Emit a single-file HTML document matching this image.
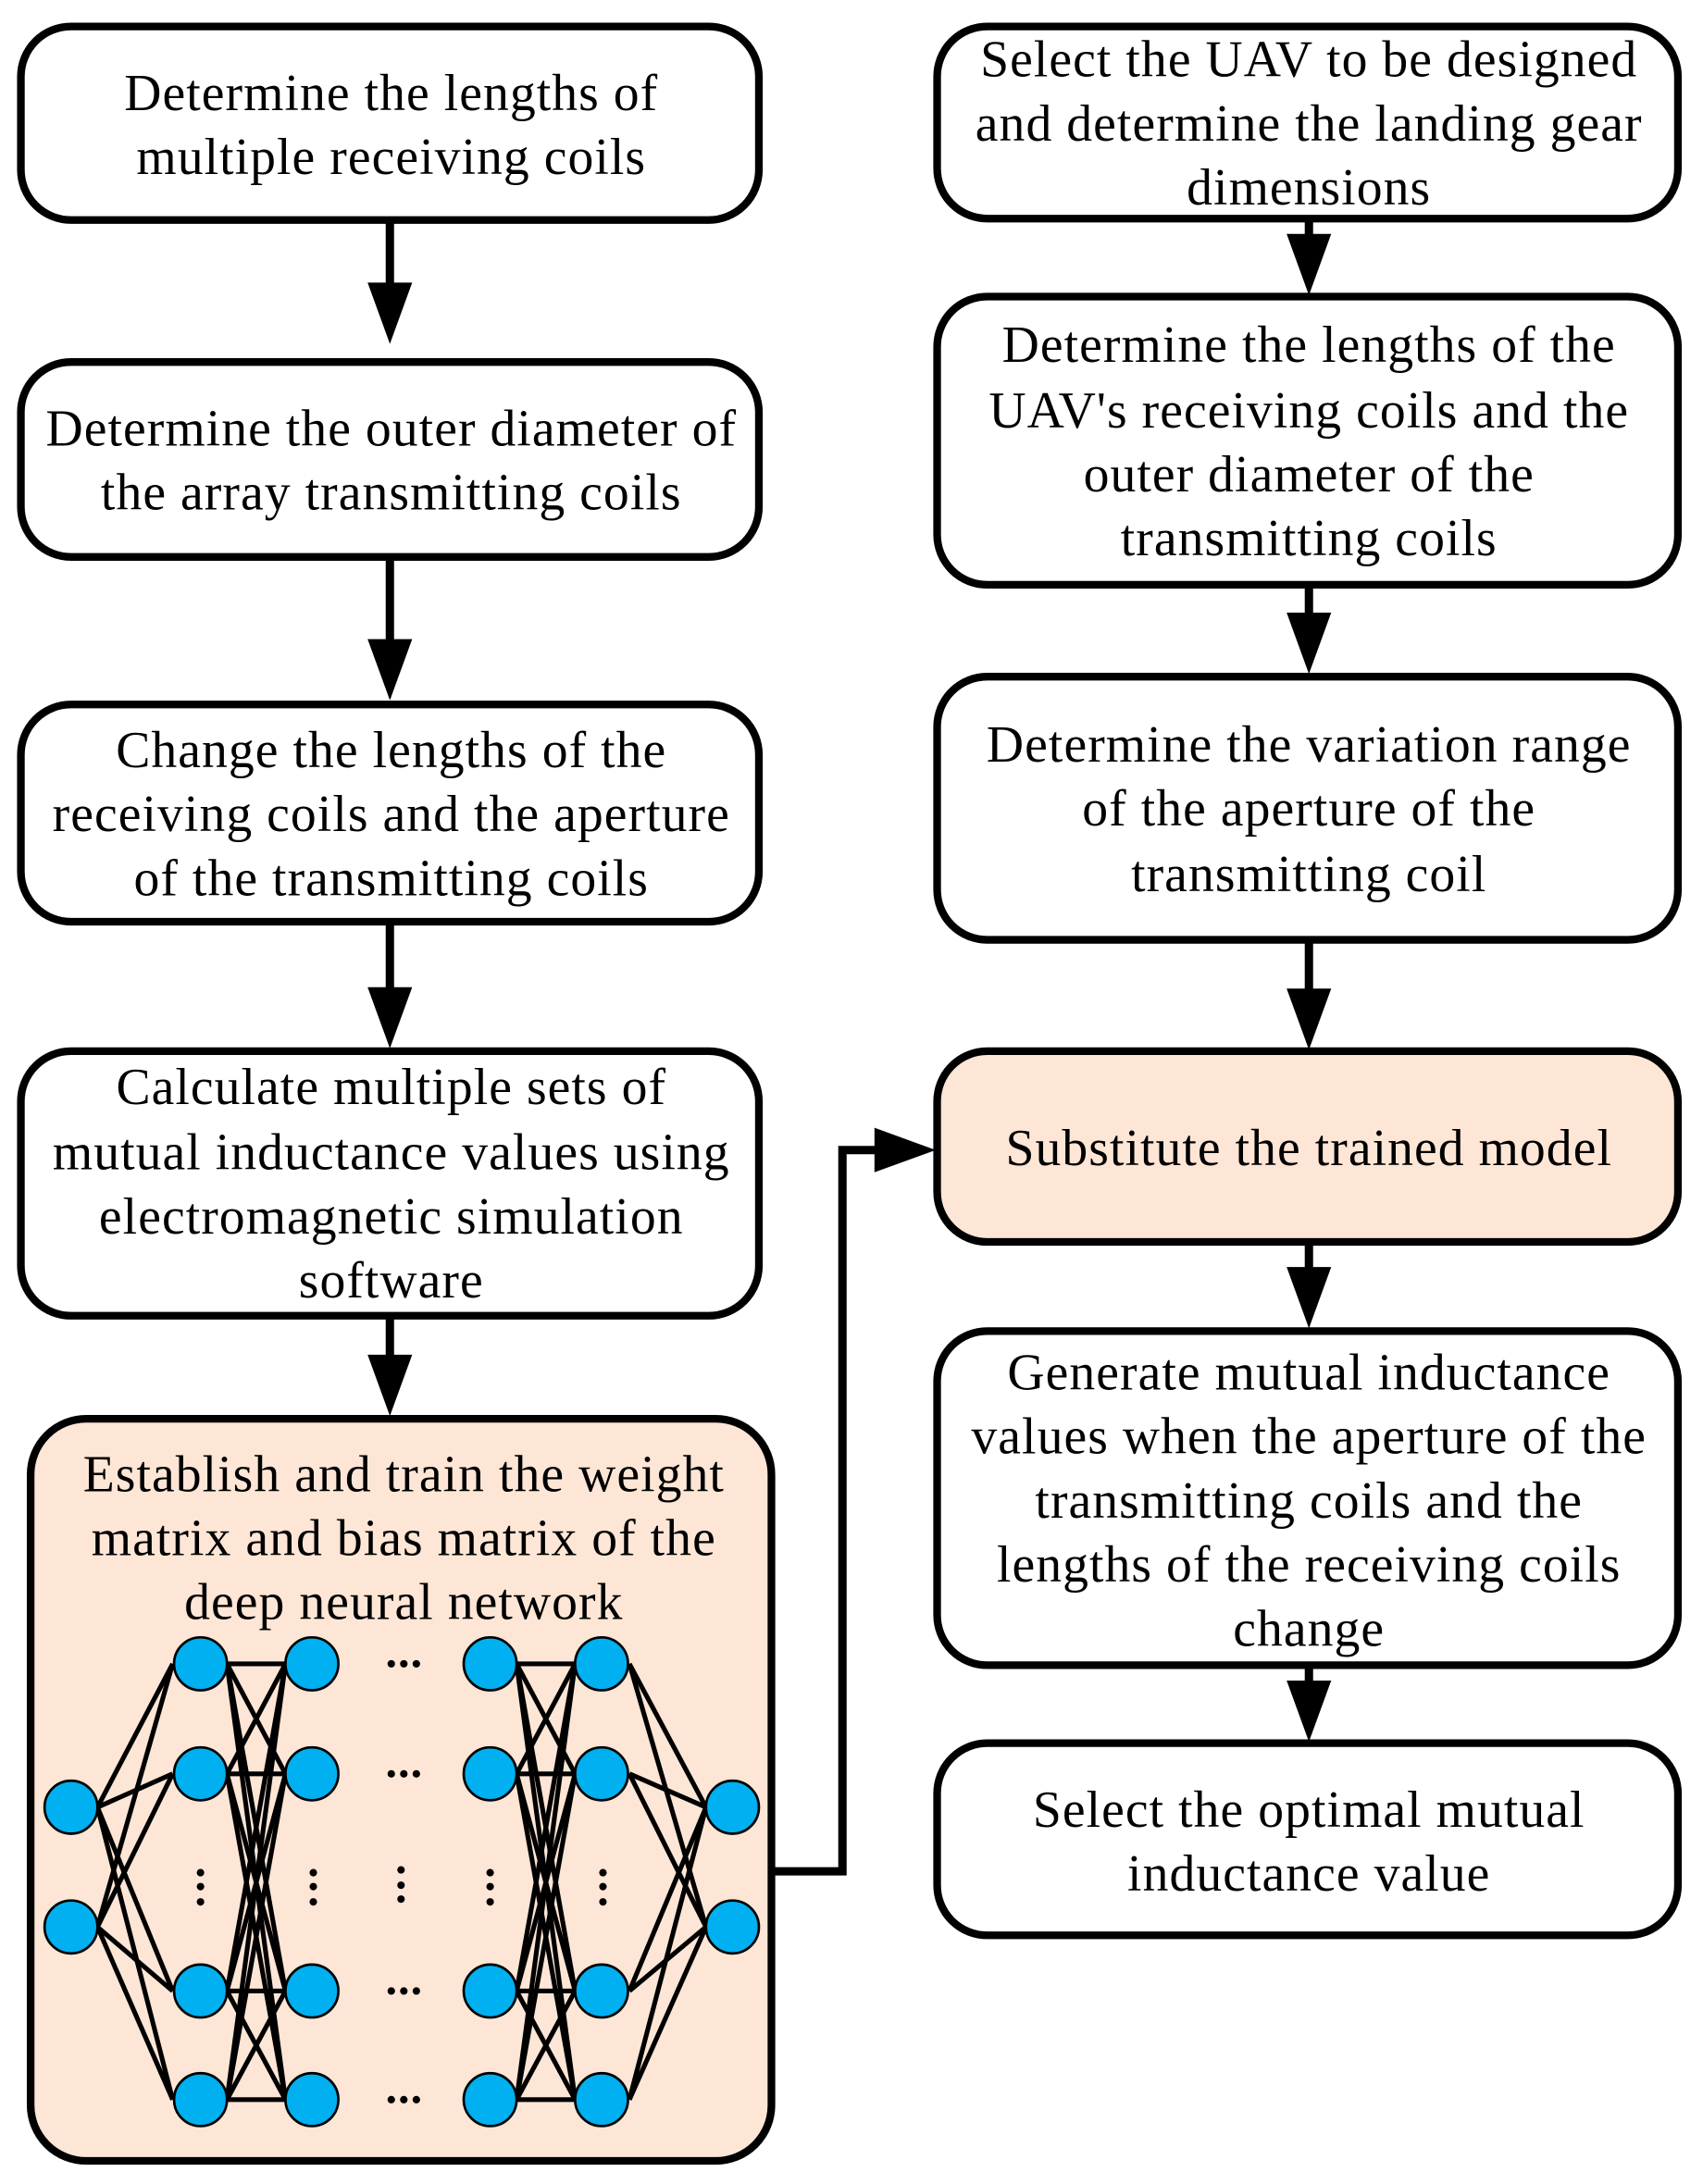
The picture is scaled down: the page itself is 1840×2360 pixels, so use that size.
<!DOCTYPE html>
<html><head><meta charset="utf-8"><style>html,body{margin:0;padding:0;background:#fff}svg{display:block}</style></head>
<body>
<svg xmlns="http://www.w3.org/2000/svg" width="1840" height="2360" viewBox="0 0 1223 1568.6" preserveAspectRatio="none">
<defs>
<g id="ah"><polygon points="-16,0 16,0 0,44" fill="#000"/></g>
</defs>
<g fill="#fff" stroke="#000" stroke-width="5.5">
<rect x="15" y="19" width="530" height="139" rx="36"/>
<rect x="15" y="260" width="530" height="140" rx="36"/>
<rect x="15" y="506" width="530" height="156" rx="36"/>
<rect x="15" y="755" width="530" height="190" rx="36"/>
<rect x="22" y="1019" width="532" height="533" rx="40" fill="#fee6d6"/>
<rect x="673" y="19" width="532" height="138" rx="36"/>
<rect x="673" y="213" width="532" height="207" rx="36"/>
<rect x="673" y="486" width="532" height="189" rx="36"/>
<rect x="673" y="755" width="532" height="137" rx="36" fill="#fee6d6"/>
<rect x="673" y="956" width="532" height="240" rx="36"/>
<rect x="673" y="1252" width="532" height="138" rx="36"/>
</g>
<g stroke="#000" stroke-width="6" fill="none">
<line x1="280" y1="158" x2="280" y2="205"/>
<line x1="280" y1="400" x2="280" y2="460"/>
<line x1="280" y1="662" x2="280" y2="710"/>
<line x1="280" y1="945" x2="280" y2="975"/>
<line x1="940" y1="157" x2="940" y2="170"/>
<line x1="940" y1="420" x2="940" y2="442"/>
<line x1="940" y1="675" x2="940" y2="712"/>
<line x1="940" y1="892" x2="940" y2="912"/>
<line x1="940" y1="1196" x2="940" y2="1210"/>
<polyline points="554,1344 605,1344 605,826 635,826"/>
</g>
<use href="#ah" x="280" y="203"/>
<use href="#ah" x="280" y="459"/>
<use href="#ah" x="280" y="709"/>
<use href="#ah" x="280" y="973"/>
<use href="#ah" x="940" y="168"/>
<use href="#ah" x="940" y="440"/>
<use href="#ah" x="940" y="710"/>
<use href="#ah" x="940" y="910"/>
<use href="#ah" x="940" y="1207"/>
<polygon points="628,810 628,842 672,826" fill="#000"/>
<g stroke="#000" stroke-width="3.4">
<g>
<line x1="70" y1="1298" x2="124" y2="1195"/><line x1="70" y1="1298" x2="124" y2="1274"/><line x1="70" y1="1298" x2="124" y2="1430"/><line x1="70" y1="1298" x2="124" y2="1508"/>
<line x1="70" y1="1384" x2="124" y2="1195"/><line x1="70" y1="1384" x2="124" y2="1274"/><line x1="70" y1="1384" x2="124" y2="1430"/><line x1="70" y1="1384" x2="124" y2="1508"/>
</g>
<g>
<line x1="163" y1="1195" x2="205" y2="1195"/><line x1="163" y1="1195" x2="205" y2="1274"/><line x1="163" y1="1195" x2="205" y2="1430"/><line x1="163" y1="1195" x2="205" y2="1508"/>
<line x1="163" y1="1274" x2="205" y2="1195"/><line x1="163" y1="1274" x2="205" y2="1274"/><line x1="163" y1="1274" x2="205" y2="1430"/><line x1="163" y1="1274" x2="205" y2="1508"/>
<line x1="163" y1="1430" x2="205" y2="1195"/><line x1="163" y1="1430" x2="205" y2="1274"/><line x1="163" y1="1430" x2="205" y2="1430"/><line x1="163" y1="1430" x2="205" y2="1508"/>
<line x1="163" y1="1508" x2="205" y2="1195"/><line x1="163" y1="1508" x2="205" y2="1274"/><line x1="163" y1="1508" x2="205" y2="1430"/><line x1="163" y1="1508" x2="205" y2="1508"/>
</g>
<g>
<line x1="371" y1="1195" x2="413" y2="1195"/><line x1="371" y1="1195" x2="413" y2="1274"/><line x1="371" y1="1195" x2="413" y2="1430"/><line x1="371" y1="1195" x2="413" y2="1508"/>
<line x1="371" y1="1274" x2="413" y2="1195"/><line x1="371" y1="1274" x2="413" y2="1274"/><line x1="371" y1="1274" x2="413" y2="1430"/><line x1="371" y1="1274" x2="413" y2="1508"/>
<line x1="371" y1="1430" x2="413" y2="1195"/><line x1="371" y1="1430" x2="413" y2="1274"/><line x1="371" y1="1430" x2="413" y2="1430"/><line x1="371" y1="1430" x2="413" y2="1508"/>
<line x1="371" y1="1508" x2="413" y2="1195"/><line x1="371" y1="1508" x2="413" y2="1274"/><line x1="371" y1="1508" x2="413" y2="1430"/><line x1="371" y1="1508" x2="413" y2="1508"/>
</g>
<g>
<line x1="452" y1="1195" x2="507" y2="1298"/><line x1="452" y1="1274" x2="507" y2="1298"/><line x1="452" y1="1430" x2="507" y2="1298"/><line x1="452" y1="1508" x2="507" y2="1298"/>
<line x1="452" y1="1195" x2="507" y2="1384"/><line x1="452" y1="1274" x2="507" y2="1384"/><line x1="452" y1="1430" x2="507" y2="1384"/><line x1="452" y1="1508" x2="507" y2="1384"/>
</g>
</g>
<g fill="#00b0f0" stroke="#000" stroke-width="1.8">
<circle cx="51" cy="1298" r="19"/><circle cx="51" cy="1384" r="19"/>
<circle cx="144" cy="1195" r="19"/><circle cx="144" cy="1274" r="19"/><circle cx="144" cy="1430" r="19"/><circle cx="144" cy="1508" r="19"/>
<circle cx="224" cy="1195" r="19"/><circle cx="224" cy="1274" r="19"/><circle cx="224" cy="1430" r="19"/><circle cx="224" cy="1508" r="19"/>
<circle cx="352" cy="1195" r="19"/><circle cx="352" cy="1274" r="19"/><circle cx="352" cy="1430" r="19"/><circle cx="352" cy="1508" r="19"/>
<circle cx="432" cy="1195" r="19"/><circle cx="432" cy="1274" r="19"/><circle cx="432" cy="1430" r="19"/><circle cx="432" cy="1508" r="19"/>
<circle cx="526" cy="1298" r="19"/><circle cx="526" cy="1384" r="19"/>
</g>
<g fill="#000">
<g><circle cx="281" cy="1195" r="2.7"/><circle cx="290" cy="1195" r="2.7"/><circle cx="299" cy="1195" r="2.7"/></g>
<g><circle cx="281" cy="1274" r="2.7"/><circle cx="290" cy="1274" r="2.7"/><circle cx="299" cy="1274" r="2.7"/></g>
<g><circle cx="281" cy="1430" r="2.7"/><circle cx="290" cy="1430" r="2.7"/><circle cx="299" cy="1430" r="2.7"/></g>
<g><circle cx="281" cy="1508" r="2.7"/><circle cx="290" cy="1508" r="2.7"/><circle cx="299" cy="1508" r="2.7"/></g>
<g><circle cx="144" cy="1345" r="2.7"/><circle cx="144" cy="1355" r="2.7"/><circle cx="144" cy="1366" r="2.7"/></g>
<g><circle cx="225" cy="1345" r="2.7"/><circle cx="225" cy="1355" r="2.7"/><circle cx="225" cy="1366" r="2.7"/></g>
<g><circle cx="288" cy="1343" r="2.7"/><circle cx="288" cy="1354" r="2.7"/><circle cx="288" cy="1364" r="2.7"/></g>
<g><circle cx="352" cy="1345" r="2.7"/><circle cx="352" cy="1355" r="2.7"/><circle cx="352" cy="1366" r="2.7"/></g>
<g><circle cx="433" cy="1345" r="2.7"/><circle cx="433" cy="1355" r="2.7"/><circle cx="433" cy="1366" r="2.7"/></g>
</g>
<g font-family="'Liberation Serif', serif" font-size="37" letter-spacing="0.7" text-anchor="middle" dominant-baseline="central" fill="#000">
<text x="281" y="67">Determine the lengths of</text>
<text x="281" y="113">multiple receiving coils</text>
<text x="281" y="308">Determine the outer diameter of</text>
<text x="281" y="354">the array transmitting coils</text>
<text x="281" y="539">Change the lengths of the</text>
<text x="281" y="585">receiving coils and the aperture</text>
<text x="281" y="631">of the transmitting coils</text>
<text x="281" y="781">Calculate multiple sets of</text>
<text x="281" y="828">mutual inductance values using</text>
<text x="281" y="874">electromagnetic simulation</text>
<text x="281" y="920">software</text>
<text x="290" y="1059">Establish and train the weight</text>
<text x="290" y="1105">matrix and bias matrix of the</text>
<text x="290" y="1151">deep neural network</text>
<text x="940" y="43">Select the UAV to be designed</text>
<text x="940" y="89">and determine the landing gear</text>
<text x="940" y="135">dimensions</text>
<text x="940" y="248">Determine the lengths of the</text>
<text x="940" y="295">UAV's receiving coils and the</text>
<text x="940" y="341">outer diameter of the</text>
<text x="940" y="387">transmitting coils</text>
<text x="940" y="535">Determine the variation range</text>
<text x="940" y="581">of the aperture of the</text>
<text x="940" y="628">transmitting coil</text>
<text x="940" y="825">Substitute the trained model</text>
<text x="940" y="986">Generate mutual inductance</text>
<text x="940" y="1032">values when the aperture of the</text>
<text x="940" y="1078">transmitting coils and the</text>
<text x="940" y="1124">lengths of the receiving coils</text>
<text x="940" y="1170">change</text>
<text x="940" y="1300">Select the optimal mutual</text>
<text x="940" y="1346">inductance value</text>
</g>
</svg>
</body></html>
